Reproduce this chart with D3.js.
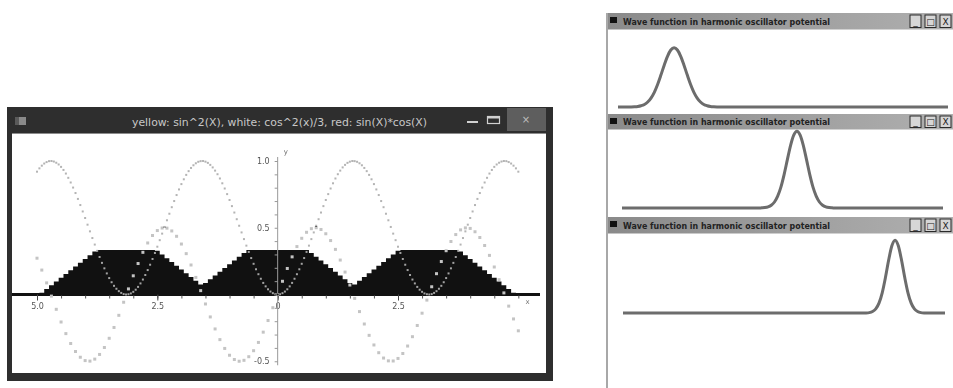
<!DOCTYPE html>
<html>
<head>
<meta charset="utf-8">
<script src="https://cdn.jsdelivr.net/npm/d3@7/dist/d3.min.js"></script>
<style>
  html, body { margin: 0; padding: 0; background: #ffffff; }
  svg { display: block; }
</style>
</head>
<body>
<svg id="chart" width="953" height="388"></svg>
<script>
// ---------- main plot data: three functions sampled on a regular x grid ----------
const xStart = -5;
const yellowStep = 0.05;   // sin^2(x), dense dots
const redStep = 0.1;       // sin(x)*cos(x), sparse dots
const whiteStep = 0.1;     // filled step profile

const yellowValues = [
  0.920,0.945,0.965,0.981,0.992,0.999,1.000,0.996,0.987,0.974,
  0.956,0.933,0.906,0.874,0.839,0.801,0.760,0.716,0.670,0.622,
  0.573,0.523,0.473,0.423,0.374,0.327,0.281,0.237,0.196,0.158,
  0.123,0.092,0.065,0.043,0.025,0.012,0.003,0.000,0.002,0.008,
  0.020,0.036,0.057,0.083,0.112,0.146,0.183,0.223,0.266,0.311,
  0.358,0.407,0.456,0.506,0.556,0.605,0.654,0.700,0.745,0.787,
  0.827,0.863,0.896,0.924,0.948,0.968,0.983,0.994,0.999,1.000,
  0.995,0.986,0.971,0.952,0.928,0.901,0.869,0.833,0.794,0.752,
  0.708,0.662,0.614,0.564,0.515,0.465,0.415,0.366,0.319,0.273,
  0.230,0.189,0.152,0.118,0.087,0.061,0.039,0.022,0.010,0.002,
  0.000,
  0.002,0.010,0.022,0.039,0.061,0.087,0.118,0.152,0.189,0.230,
  0.273,0.319,0.366,0.415,0.465,0.515,0.564,0.614,0.662,0.708,
  0.752,0.794,0.833,0.869,0.901,0.928,0.952,0.971,0.986,0.995,
  1.000,0.999,0.994,0.983,0.968,0.948,0.924,0.896,0.863,0.827,
  0.787,0.745,0.700,0.654,0.605,0.556,0.506,0.456,0.407,0.358,
  0.311,0.266,0.223,0.183,0.146,0.112,0.083,0.057,0.036,0.020,
  0.008,0.002,0.000,0.003,0.012,0.025,0.043,0.065,0.092,0.123,
  0.158,0.196,0.237,0.281,0.327,0.374,0.423,0.473,0.523,0.573,
  0.622,0.670,0.716,0.760,0.801,0.839,0.874,0.906,0.933,0.956,
  0.974,0.987,0.996,1.000,0.999,0.992,0.981,0.965,0.945,0.920
];

const redValues = [
  0.272,0.183,0.087,-0.012,-0.111,-0.206,-0.293,-0.367,-0.427,-0.470,
  -0.495,-0.499,-0.484,-0.449,-0.397,-0.328,-0.247,-0.156,-0.058,0.042,
  0.140,0.232,0.316,0.386,0.442,0.479,0.498,0.497,0.476,0.436,
  0.378,0.306,0.221,0.128,0.029,-0.071,-0.168,-0.258,-0.338,-0.404,
  -0.455,-0.487,-0.500,-0.493,-0.466,-0.421,-0.359,-0.282,-0.195,-0.099,
  0.000,0.099,0.195,0.282,0.359,0.421,0.466,0.493,0.500,0.487,
  0.455,0.404,0.338,0.258,0.168,0.071,-0.029,-0.128,-0.221,-0.306,
  -0.378,-0.436,-0.476,-0.497,-0.498,-0.479,-0.442,-0.386,-0.316,-0.232,
  -0.140,-0.042,0.058,0.156,0.247,0.328,0.397,0.449,0.484,0.499,
  0.495,0.470,0.427,0.367,0.293,0.206,0.111,0.012,-0.087,-0.183,
  -0.272
];

const whiteValues = [
  0.000,0.014,0.042,0.070,0.098,0.126,0.154,0.182,0.210,0.238,
  0.266,0.294,0.322,0.333,0.333,0.333,0.333,0.333,0.333,0.333,
  0.333,0.333,0.333,0.333,0.333,0.327,0.299,0.271,0.243,0.215,
  0.187,0.159,0.131,0.103,0.075,0.087,0.115,0.143,0.171,0.199,
  0.227,0.255,0.283,0.311,0.333,0.333,0.333,0.333,0.333,0.333,
  0.333,0.333,0.333,0.333,0.333,0.333,0.333,0.311,0.283,0.255,
  0.227,0.199,0.171,0.143,0.115,0.087,0.075,0.103,0.131,0.159,
  0.187,0.215,0.243,0.271,0.299,0.327,0.333,0.333,0.333,0.333,
  0.333,0.333,0.333,0.333,0.333,0.333,0.333,0.333,0.322,0.294,
  0.266,0.238,0.210,0.182,0.154,0.126,0.098,0.070,0.042,0.014,
  0.000
];

const plotTitle = "yellow: sin^2(X), white: cos^2(x)/3, red: sin(X)*cos(X)";
const xMinorTicks = d3.range(-5, 5.001, 0.5);
const xMajorTicks = [-5, -2.5, 0, 2.5];
const xMajorLabels = ["5.0", "2.5", "0", "2.5"];
const yTicks = d3.range(-0.5, 1.0001, 0.1).map(v => +v.toFixed(1));
const yLabelTicks = [1.0, 0.5, -0.5];
const yLabels = ["1.0", "0.5", "-0.5"];
const xAxisExtent = [-5.52, 5.45];
const yAxisExtent = [-0.53, 1.03];

// ---------- wave function panels: |psi|^2 read at positions x ----------
const waveTitle = "Wave function in harmonic oscillator potential";
const wave1 = [
  [-5,0],[-4.7,0],[-4.6,0.001],[-4.5,0.003],[-4.4,0.007],[-4.3,0.016],[-4.2,0.032],
  [-4.1,0.063],[-4.0,0.112],[-3.9,0.184],[-3.8,0.282],[-3.7,0.399],[-3.6,0.523],
  [-3.5,0.634],[-3.4,0.712],[-3.3,0.740],[-3.2,0.712],[-3.1,0.634],[-3.0,0.523],
  [-2.9,0.399],[-2.8,0.282],[-2.7,0.184],[-2.6,0.112],[-2.5,0.063],[-2.4,0.032],
  [-2.3,0.016],[-2.2,0.007],[-2.1,0.003],[-2.0,0.001],[-1.9,0],[5,0]
];
const wave2 = [
  [-5,0],[-0.75,0],[-0.65,0.002],[-0.55,0.005],[-0.45,0.014],[-0.35,0.035],
  [-0.25,0.075],[-0.15,0.148],[-0.05,0.261],[0.05,0.418],[0.15,0.601],[0.25,0.780],
  [0.35,0.911],[0.45,0.960],[0.55,0.911],[0.65,0.780],[0.75,0.601],[0.85,0.418],
  [0.95,0.261],[1.05,0.148],[1.15,0.075],[1.25,0.035],[1.35,0.014],[1.45,0.005],
  [1.55,0.002],[1.65,0],[5,0]
];
const wave3 = [
  [-5,0],[2.45,0],[2.55,0.001],[2.65,0.005],[2.75,0.018],[2.85,0.051],[2.95,0.123],
  [3.05,0.253],[3.15,0.443],[3.25,0.661],[3.35,0.840],[3.45,0.910],[3.55,0.840],
  [3.65,0.661],[3.75,0.443],[3.85,0.253],[3.95,0.123],[4.05,0.051],[4.15,0.018],
  [4.25,0.005],[4.35,0.001],[4.45,0],[5,0]
];

// ---------- drawing ----------
const svg = d3.select("#chart");
const defs = svg.append("defs");

// ===== left window (plot) =====
const win = svg.append("g");
win.append("rect").attr("x", 7).attr("y", 107).attr("width", 546).attr("height", 274).attr("fill", "#2e2e2e");
win.append("rect").attr("x", 12).attr("y", 134).attr("width", 534).attr("height", 239).attr("fill", "#ffffff");
win.append("line").attr("x1", 12).attr("x2", 546).attr("y1", 133.5).attr("y2", 133.5).attr("stroke", "#8c8c8c");
// title bar decorations
win.append("rect").attr("x", 15).attr("y", 117).attr("width", 11).attr("height", 8).attr("fill", "#8a8a8a");
win.append("rect").attr("x", 15).attr("y", 117).attr("width", 4).attr("height", 8).attr("fill", "#5a5a5a");
win.append("rect").attr("x", 507).attr("y", 108).attr("width", 39).attr("height", 23).attr("fill", "#5e5e5e");
win.append("text").attr("x", 526).attr("y", 123).attr("text-anchor", "middle")
  .attr("font-family", "DejaVu Sans").attr("font-size", 10).attr("fill", "#bdbdbd").text("×");
win.append("rect").attr("x", 467).attr("y", 121).attr("width", 11).attr("height", 2).attr("fill", "#d0d0d0");
win.append("rect").attr("x", 487.5).attr("y", 116.5).attr("width", 12).attr("height", 7)
  .attr("fill", "none").attr("stroke", "#d0d0d0").attr("stroke-width", 1.2);
win.append("rect").attr("x", 487.5).attr("y", 116.5).attr("width", 12).attr("height", 2).attr("fill", "#d0d0d0");
win.append("text").attr("x", 132).attr("y", 126)
  .attr("font-family", "DejaVu Sans").attr("font-size", 10).attr("fill", "#c8c8c8")
  .attr("textLength", 295).attr("lengthAdjust", "spacingAndGlyphs")
  .text(plotTitle);

const x = d3.scaleLinear().domain([-5, 2.5]).range([37, 398]);
const y = d3.scaleLinear().domain([0, 1]).range([294.5, 161]);
const plot = win.append("g").style("isolation", "isolate");

// filled step profile
const whitePts = whiteValues.map((v, i) => [xStart + i * whiteStep, v]);
plot.append("path")
  .datum(whitePts)
  .attr("d", d3.area().curve(d3.curveStep)
    .x(d => x(d[0])).y0(y(0)).y1(d => y(d[1])))
  .attr("fill", "#111111");

// x axis: thick baseline with minor and major ticks
plot.append("line")
  .attr("x1", x(xAxisExtent[0])).attr("x2", x(xAxisExtent[1]))
  .attr("y1", y(0)).attr("y2", y(0))
  .attr("stroke", "#111").attr("stroke-width", 3);
const axMinor = plot.append("g").attr("transform", `translate(0,${y(0) + 1})`)
  .call(d3.axisBottom(x).tickValues(xMinorTicks).tickSize(3).tickFormat(""));
axMinor.select(".domain").remove();
axMinor.selectAll(".tick line").attr("stroke", "#555");
const axMajor = plot.append("g").attr("transform", `translate(0,${y(0)})`)
  .call(d3.axisBottom(x).tickValues(xMajorTicks).tickSize(6).tickPadding(3)
    .tickFormat(d => xMajorLabels[xMajorTicks.indexOf(d)]));
axMajor.select(".domain").remove();
axMajor.selectAll(".tick line").attr("stroke", "#444");
axMajor.selectAll(".tick text").attr("font-family", "DejaVu Sans").attr("font-size", 8).attr("fill", "#555");
plot.append("text").attr("x", x(5.15)).attr("y", y(0) + 9)
  .attr("font-family", "DejaVu Sans").attr("font-size", 7).attr("fill", "#777").text("x");

// y axis
plot.append("line")
  .attr("x1", x(0)).attr("x2", x(0))
  .attr("y1", y(yAxisExtent[0])).attr("y2", y(yAxisExtent[1]))
  .attr("stroke", "#9a9a9a").attr("stroke-width", 1);
const ay = plot.append("g").attr("transform", `translate(${x(0)},0)`)
  .call(d3.axisLeft(y).tickValues(yTicks).tickSize(3).tickPadding(5)
    .tickFormat(d => { const k = yLabelTicks.findIndex(v => Math.abs(v - d) < 1e-6); return k >= 0 ? yLabels[k] : ""; }));
ay.select(".domain").remove();
ay.selectAll(".tick line").attr("stroke", "#999");
ay.selectAll(".tick text").attr("font-family", "DejaVu Sans").attr("font-size", 8).attr("fill", "#555");
plot.append("text").attr("x", x(0) + 6).attr("y", y(1.05))
  .attr("font-family", "DejaVu Sans").attr("font-size", 7).attr("fill", "#666").text("y");

// sin(x)*cos(x) dots
plot.append("g").selectAll("rect")
  .data(redValues.map((v, i) => [xStart + i * redStep, v]))
  .join("rect")
  .attr("x", d => x(d[0]) - 1.5).attr("y", d => y(d[1]) - 1.5)
  .attr("width", 3).attr("height", 3)
  .attr("fill", "#c4c4c4");

// sin^2(x) dots (dark over white, light over the filled profile)
plot.append("g").selectAll("rect")
  .data(yellowValues.map((v, i) => [xStart + i * yellowStep, v]))
  .join("rect")
  .attr("x", d => x(d[0]) - 1).attr("y", d => y(d[1]) - 1)
  .attr("width", 2).attr("height", 2)
  .attr("fill", "#b4b4b4")
  .style("mix-blend-mode", "difference");

// ===== right windows (wave function snapshots) =====
const grad = defs.append("linearGradient").attr("id", "barGrad").attr("x1", 0).attr("x2", 1).attr("y1", 0).attr("y2", 0);
grad.append("stop").attr("offset", 0).attr("stop-color", "#8a8a8a");
grad.append("stop").attr("offset", 1).attr("stop-color", "#b0b0b0");

const panels = [
  { data: wave1, bar: 13, barH: 16.5, xr: [618, 948], base: 107 },
  { data: wave2, bar: 114, barH: 15.5, xr: [622, 943], base: 208 },
  { data: wave3, bar: 217, barH: 16.5, xr: [623, 945], base: 313 }
];

const right = svg.append("g");
right.append("line").attr("x1", 607).attr("x2", 607).attr("y1", 13).attr("y2", 388)
  .attr("stroke", "#a8a8a8").attr("stroke-width", 2);

panels.forEach(p => {
  const g = right.append("g");
  g.append("rect").attr("x", 608).attr("y", p.bar).attr("width", 345).attr("height", p.barH).attr("fill", "url(#barGrad)");
  g.append("rect").attr("x", 610).attr("y", p.bar + 4).attr("width", 7).attr("height", 6).attr("fill", "#111");
  g.append("text").attr("x", 623).attr("y", p.bar + p.barH / 2 + 3.5)
    .attr("font-family", "DejaVu Sans").attr("font-weight", "bold").attr("font-size", 9).attr("fill", "#222")
    .attr("textLength", 207).attr("lengthAdjust", "spacingAndGlyphs")
    .text(waveTitle);
  [910, 925, 940].forEach((bx, k) => {
    g.append("rect").attr("x", bx).attr("y", p.bar + 2).attr("width", 11).attr("height", p.barH - 4)
      .attr("fill", "#d6d6d6").attr("stroke", "#2a2a2a").attr("stroke-width", 1);
    g.append("text").attr("x", bx + 5.5).attr("y", p.bar + p.barH - 4.5).attr("text-anchor", "middle")
      .attr("font-family", "DejaVu Sans").attr("font-size", 9).attr("fill", "#222")
      .text(["_", "□", "X"][k]);
  });

  const wx = d3.scaleLinear().domain([-5, 5]).range(p.xr);
  const wy = d3.scaleLinear().domain([0, 1]).range([p.base, p.base - 80]);
  g.append("path")
    .datum(p.data)
    .attr("d", d3.line().curve(d3.curveMonotoneX).x(d => wx(d[0])).y(d => wy(d[1])))
    .attr("fill", "none")
    .attr("stroke", "#6c6c6c")
    .attr("stroke-width", 3)
    .attr("stroke-linejoin", "round");
});
</script>
</body>
</html>
